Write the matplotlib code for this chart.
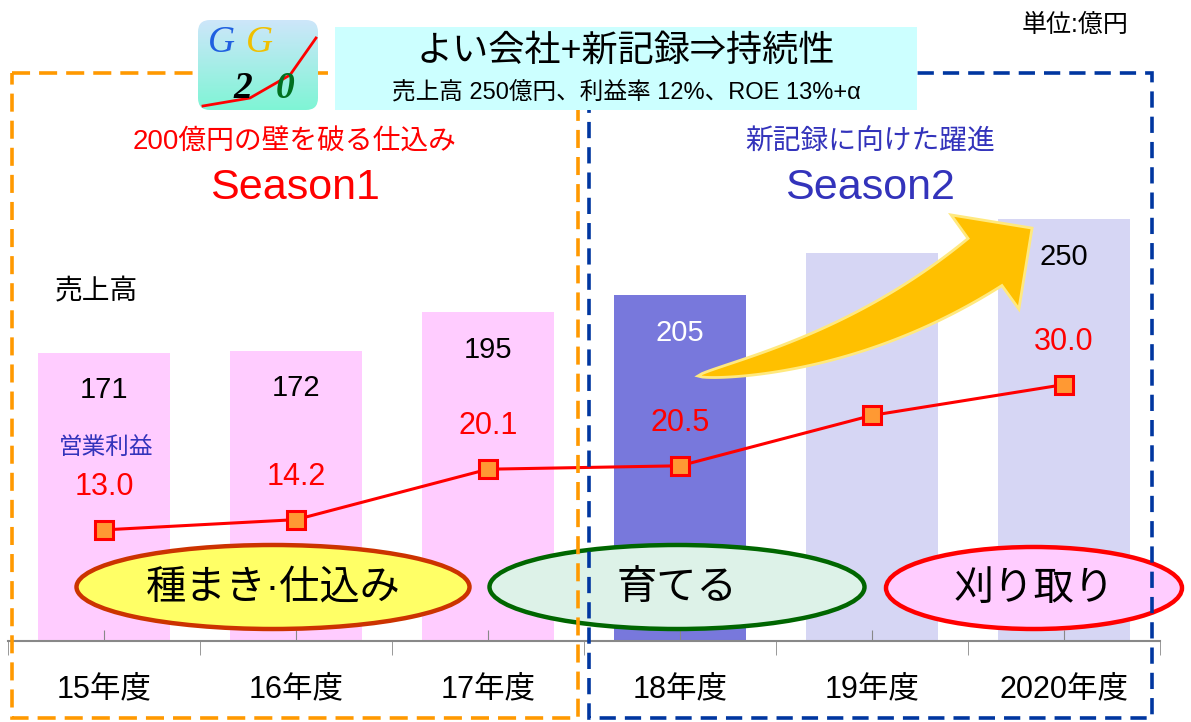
import numpy as np
import matplotlib.pyplot as plt
import matplotlib.patches as mpatches
from matplotlib.colors import LinearSegmentedColormap

plt.rcParams['font.family'] = ['Liberation Sans', 'Noto Sans CJK JP']

# dados do gráfico
categorias = ['15年度', '16年度', '17年度', '18年度', '19年度', '2020年度']
vendas = [171, 172, 195, 205, 230, 250]
vendas_rotulos = ['171', '172', '195', '205', '', '250']
lucro = [13.0, 14.2, 20.1, 20.5, 26.4, 30.0]
lucro_rotulos = ['13.0', '14.2', '20.1', '20.5', '', '30.0']
cores_barras = ['#FFCCFF', '#FFCCFF', '#FFCCFF', '#7878DC', '#D6D6F4', '#D6D6F4']
cores_rotulos = ['black', 'black', 'black', 'white', 'black', 'black']

W, H = 1191, 722
fig = plt.figure(figsize=(W / 100, H / 100), dpi=100)

# --- eixo principal: barras de vendas ---
ax = fig.add_axes([8 / W, 81 / H, 1152 / W, 641 / H])
x = np.arange(len(categorias))
ax.bar(x, vendas, width=0.69, color=cores_barras, zorder=1)
ax.set_xlim(-0.5, 5.5)
ax.set_ylim(0, 380)
for i in range(len(x)):
    ax.annotate(vendas_rotulos[i], (x[i], vendas[i]), xytext=(0, -27),
                textcoords='offset points', ha='center', va='center',
                fontsize=21, color=cores_rotulos[i])

ax.set_xticks(x, categorias)
ax.set_xticks(np.arange(-0.5, 6, 1), minor=True)
ax.tick_params(axis='x', which='major', direction='in', length=8,
               color='#888888', pad=24, labelsize=22)
ax.tick_params(axis='x', which='minor', direction='out', length=10, color='#888888')
for lado in ['top', 'left', 'right']:
    ax.spines[lado].set_visible(False)
ax.spines['bottom'].set_color('#888888')
ax.spines['bottom'].set_linewidth(1.5)

# --- eixo secundário: linha de lucro ---
ax2 = ax.twinx()
ax2.set_ylim(0, 75)
ax2.plot(x, lucro, color='red', lw=2.2, marker='s', ms=13,
         mfc='#FF9933', mec='red', mew=2.2, zorder=3)
for i in range(len(x)):
    ax2.annotate(lucro_rotulos[i], (x[i], lucro[i]), xytext=(0, 31),
                 textcoords='offset points', ha='center', va='center',
                 fontsize=22, color='red')
for lado in ax2.spines:
    ax2.spines[lado].set_visible(False)
# o twinx religa os ticks da esquerda, então desligo aqui no fim
ax.set_yticks([])
ax2.set_yticks([])

# --- camada de anotações em pixels ---
ov = fig.add_axes([0, 0, 1, 1], zorder=5)
ov.set_facecolor('none')

# seta amarela curva
t = np.linspace(0, 1, 80)
P0, P1, P2 = np.array([698, 376]), np.array([860, 352]), np.array([985, 262])
c = ((1 - t) ** 2)[:, None] * P0 + (2 * (1 - t) * t)[:, None] * P1 + (t ** 2)[:, None] * P2
d = 2 * (1 - t)[:, None] * (P1 - P0) + 2 * t[:, None] * (P2 - P1)
d = d / np.linalg.norm(d, axis=1)[:, None]
n = np.stack([-d[:, 1], d[:, 0]], axis=1)
w = 29 * t ** 0.65
cima = c + n * w[:, None]
baixo = c - n * w[:, None]
ponta = P2 + 58 * d[-1]
farpa1 = P2 + 58 * n[-1]
farpa2 = P2 - 58 * n[-1]
poly = np.vstack([cima, farpa1, ponta, farpa2, baixo[::-1]])
ov.add_patch(mpatches.Polygon(poly, closed=True, fc='#FFC000', ec='#FFE97F', lw=2, zorder=2))

# elipses das fases
elipses = [((273, 587), 393, 84, '#FFFF66', '#CC3300', '種まき·仕込み'),
           ((677, 587), 375, 84, '#DDF2E8', '#006600', '育てる'),
           ((1034, 588), 296, 82, '#FFCCFF', 'red', '刈り取り')]
for centro, larg, alt, fc, ec, txt in elipses:
    ov.add_patch(mpatches.Ellipse(centro, larg, alt, fc=fc, ec=ec, lw=3.2, zorder=3))
    ov.text(centro[0], centro[1] + 1, txt, ha='center', va='center', fontsize=29, zorder=4)

# caixas tracejadas
ov.add_patch(mpatches.Rectangle((12, 73), 566, 645, fill=False, ec='#FF9900',
                                lw=2.6, ls=(0, (5, 2.5)), zorder=5))
ov.add_patch(mpatches.Rectangle((589, 73), 563, 645, fill=False, ec='#0036A0',
                                lw=2.6, ls=(0, (4.5, 2.5)), zorder=5))

# caixa do título
ov.add_patch(mpatches.Rectangle((335, 27), 582, 83, fc='#CCFFFF', ec='none', zorder=6))
ov.text(626, 51, 'よい会社+新記録⇒持続性', ha='center', va='center', fontsize=26, zorder=7)
ov.text(626, 92, '売上高 250億円、利益率 12%、ROE 13%+α', ha='center', va='center',
        fontsize=17, zorder=7)

# logo G20 aproximado (letras em duas linhas para não se sobreporem)
grad = np.linspace(0, 1, 100)[:, None]
cmap = LinearSegmentedColormap.from_list('logo', ['#CDE6FA', '#7FF5D5'])
im = ov.imshow(grad, extent=(198, 318, 110, 20), cmap=cmap, aspect='auto', zorder=6)
caixa_logo = mpatches.FancyBboxPatch((198, 20), 120, 90,
                                     boxstyle='round,pad=0,rounding_size=12',
                                     fc='none', ec='none', transform=ov.transData)
ov.add_patch(caixa_logo)
im.set_clip_path(caixa_logo)
ov.plot([203, 250, 290, 316], [106, 98, 75, 38], color='red', lw=2, zorder=7)
ov.text(222, 43, 'G', family='Liberation Serif', style='italic', fontsize=27,
        color='#2060E0', ha='center', va='center', zorder=7)
ov.text(259, 43, 'G', family='Liberation Serif', style='italic', fontsize=27,
        color='#F0C000', ha='center', va='center', zorder=7)
ov.text(243, 88, '2', family='Liberation Serif', style='italic', weight='bold',
        fontsize=27, color='black', ha='center', va='center', zorder=8)
ov.text(285, 88, '0', family='Liberation Serif', style='italic', weight='bold',
        fontsize=27, color='#007020', ha='center', va='center', zorder=8)

# textos soltos
ov.text(1075, 25, '単位:億円', ha='center', va='center', fontsize=18)
ov.text(295, 143, '200億円の壁を破る仕込み', ha='center', va='center', fontsize=20, color='red')
ov.text(295, 188, 'Season1', ha='center', va='center', fontsize=31, color='red')
ov.text(870, 143, '新記録に向けた躍進', ha='center', va='center', fontsize=20, color='#3333BB')
ov.text(870, 188, 'Season2', ha='center', va='center', fontsize=31, color='#3333BB')
ov.text(96, 292, '売上高', ha='center', va='center', fontsize=20)
ov.text(106, 448, '営業利益', ha='center', va='center', fontsize=17, color='#3333BB')

ov.set_xlim(0, W)
ov.set_ylim(H, 0)
ov.axis('off')

fig.savefig('out.png', dpi=100)
